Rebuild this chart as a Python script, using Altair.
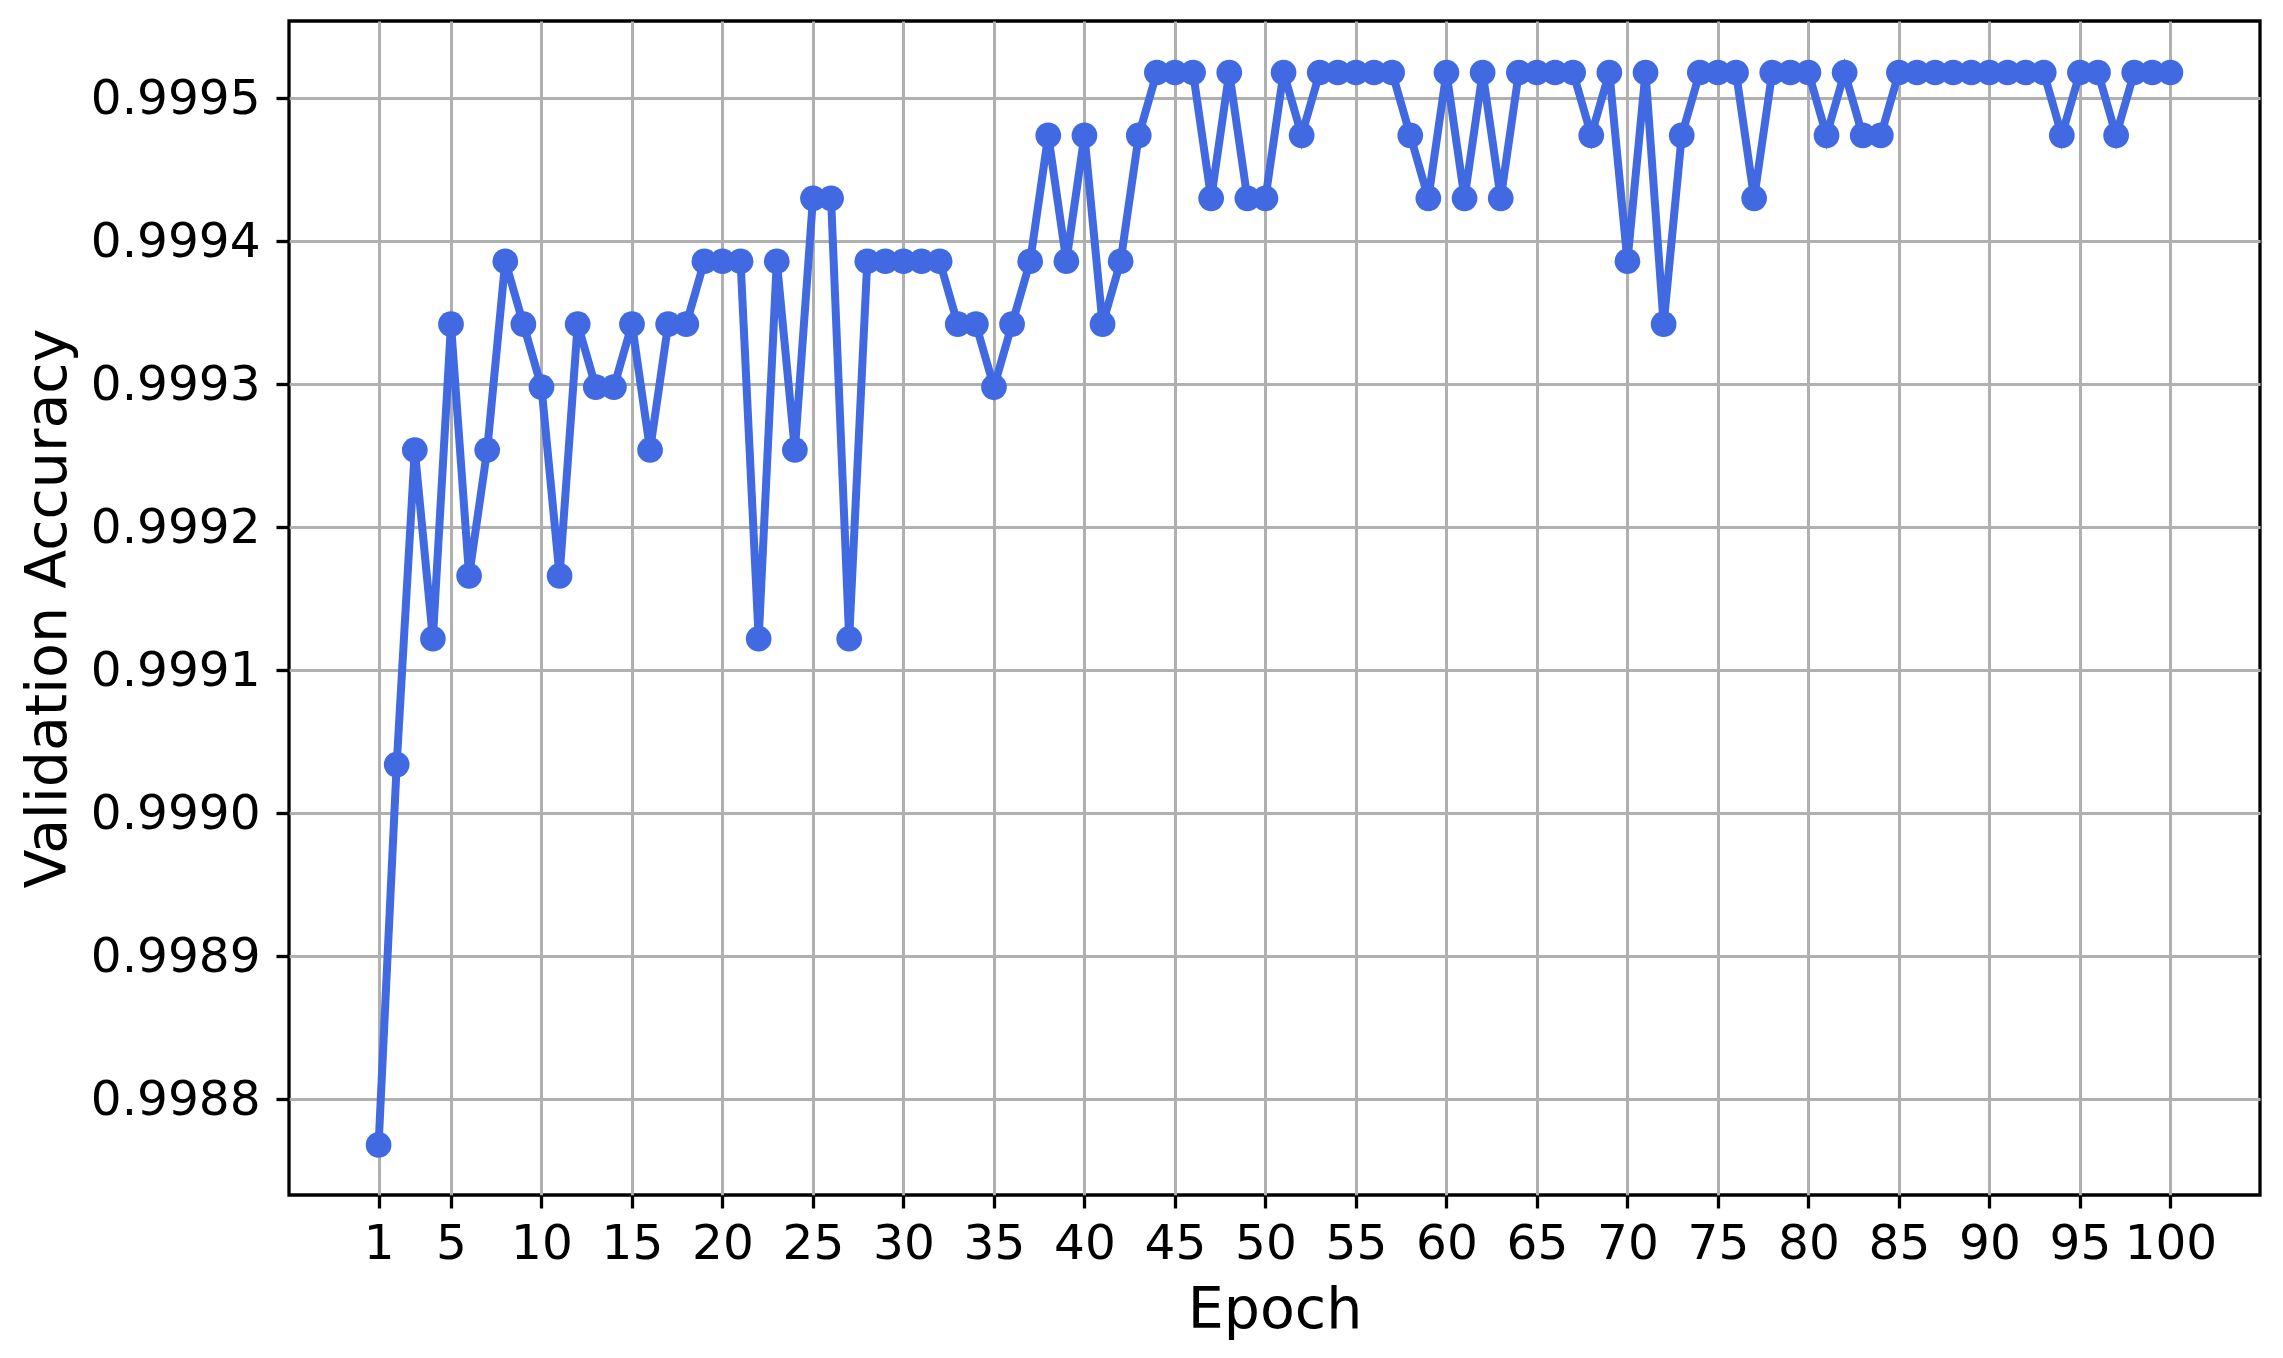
import altair as alt
import pandas as pd

epochs = list(range(1, 101))
accuracy = [
    0.998768, 0.999034, 0.999254, 0.999122, 0.999342, 0.999166, 0.999254, 0.999386, 0.999342, 0.999298,
    0.999166, 0.999342, 0.999298, 0.999298, 0.999342, 0.999254, 0.999342, 0.999342, 0.999386, 0.999386,
    0.999386, 0.999122, 0.999386, 0.999254, 0.999430, 0.999430, 0.999122, 0.999386, 0.999386, 0.999386,
    0.999386, 0.999386, 0.999342, 0.999342, 0.999298, 0.999342, 0.999386, 0.999474, 0.999386, 0.999474,
    0.999342, 0.999386, 0.999474, 0.999518, 0.999518, 0.999518, 0.999430, 0.999518, 0.999430, 0.999430,
    0.999518, 0.999474, 0.999518, 0.999518, 0.999518, 0.999518, 0.999518, 0.999474, 0.999430, 0.999518,
    0.999430, 0.999518, 0.999430, 0.999518, 0.999518, 0.999518, 0.999518, 0.999474, 0.999518, 0.999386,
    0.999518, 0.999342, 0.999474, 0.999518, 0.999518, 0.999518, 0.999430, 0.999518, 0.999518, 0.999518,
    0.999474, 0.999518, 0.999474, 0.999474, 0.999518, 0.999518, 0.999518, 0.999518, 0.999518, 0.999518,
    0.999518, 0.999518, 0.999518, 0.999474, 0.999518, 0.999518, 0.999474, 0.999518, 0.999518, 0.999518,
]
x_ticks = [1, 5, 10, 15, 20, 25, 30, 35, 40, 45, 50, 55, 60, 65, 70, 75, 80, 85, 90, 95, 100]
y_ticks = [0.9988, 0.9989, 0.9990, 0.9991, 0.9992, 0.9993, 0.9994, 0.9995]

df = pd.DataFrame({"Epoch": epochs, "Accuracy": accuracy})

FONT = "DejaVu Sans"
BLUE = "#4169E1"

x = alt.X(
    "Epoch:Q",
    scale=alt.Scale(domain=[-3.95, 104.95], nice=False, zero=False),
    axis=alt.Axis(
        values=x_ticks,
        title="Epoch",
        labelBaseline="alphabetic",
        labelPadding=50,
        labelAlign="center",
        titleX=985.5,
        titleY=132,
        titleAlign="center",
        titleBaseline="alphabetic",
    ),
)
y = alt.Y(
    "Accuracy:Q",
    scale=alt.Scale(domain=[0.998733, 0.999554], nice=False, zero=False),
    axis=alt.Axis(
        values=y_ticks,
        format=".4f",
        title="Validation Accuracy",
        labelPadding=16,
        titleX=-241,
        titleY=587,
        titleAngle=270,
        titleAlign="center",
        titleBaseline="middle",
    ),
)

base = alt.Chart(df).encode(x=x, y=y)
line = base.mark_line(color=BLUE, strokeWidth=8)
pts = base.mark_circle(color=BLUE, size=660, opacity=1)

chart = (
    (line + pts)
    .properties(
        width=1971,
        height=1174,
        autosize=alt.AutoSizeParams(type="none"),
        padding={"left": 281, "top": 13, "right": 15, "bottom": 150},
    )
    .configure_view(stroke="black", strokeWidth=3.3)
    .configure_axis(
        domain=False,
        grid=True,
        gridColor="#b0b0b0",
        gridWidth=3,
        gridOpacity=1,
        ticks=True,
        tickColor="black",
        tickWidth=3.3,
        tickSize=13,
        labelFont=FONT,
        labelFontSize=48.5,
        labelColor="black",
        titleFont=FONT,
        titleFontSize=57,
        titleFontWeight="normal",
        titleColor="black",
        labelOverlap=False,
    )
)

chart.save("out.html", embed_options={"renderer": "svg", "actions": False})
